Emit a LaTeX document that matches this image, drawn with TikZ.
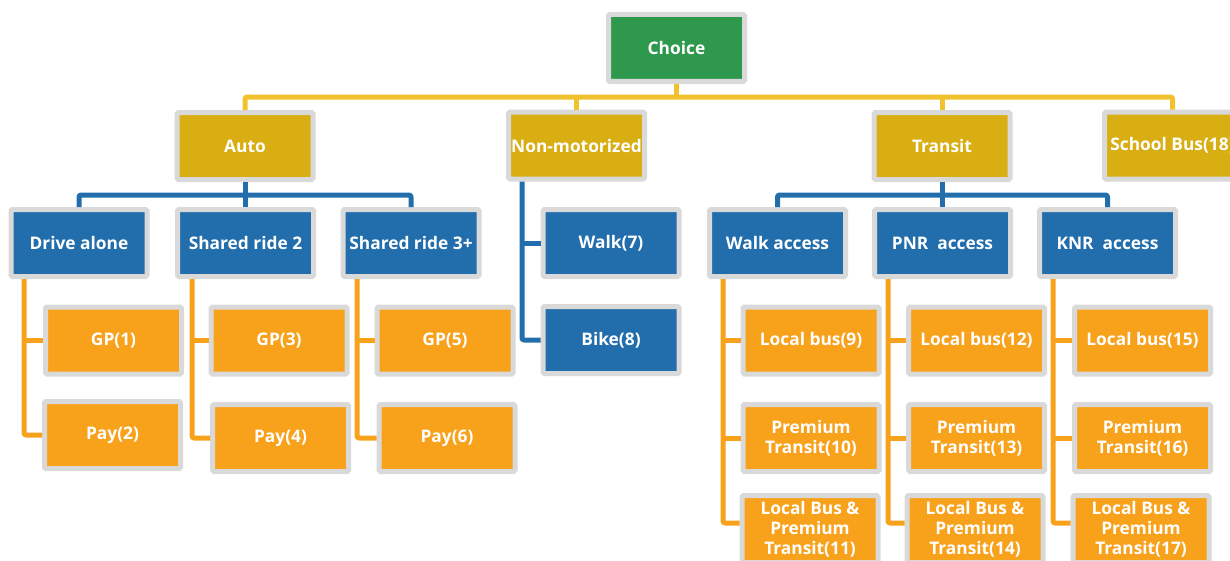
\documentclass[tikz,border=0pt]{standalone}
\usepackage{fontspec}
\setmainfont{Open Sans}
\definecolor{cgreen}{HTML}{2E994C}
\definecolor{cgold}{HTML}{D8AE12}
\definecolor{cyline}{HTML}{F0C22E}
\definecolor{cblue}{HTML}{226EAC}
\definecolor{corange}{HTML}{F8A11B}
\definecolor{cgray}{HTML}{D9D9D9}
\tikzset{
  box/.style={draw=cgray, line width=3.75pt, rounded corners=1pt, minimum width=102pt, minimum height=50.25pt,
    inner sep=0pt, text=white, font=\bfseries\fontsize{13}{15}\selectfont, align=center},
  gbox/.style={box, fill=cgreen},
  ybox/.style={box, fill=cgold},
  bbox/.style={box, fill=cblue},
  obox/.style={box, fill=corange},
  conn/.style={line width=3.75pt, line join=round, rounded corners=1.5pt},
  yl/.style={conn, draw=cyline},
  bl/.style={conn, draw=cblue},
  ol/.style={conn, draw=corange},
}
\begin{document}
\begin{tikzpicture}[x=0.75pt, y=-0.75pt]
\useasboundingbox (0,0) rectangle (1230,560);
\clip (0,0) rectangle (1230,560);
% level 0
\node[gbox] (choice) at (676.5,48) {Choice};
% level 1
\node[ybox] (auto) at (245,146) {Auto};
\node[ybox] (nonmot) at (576.5,145.5) {Non-motorized};
\node[ybox] (transit) at (942,146) {Transit};
\node[ybox] (school) at (1172.5,145.5) {School Bus(18)};
% level 2
\node[bbox] (drive) at (79,243) {Drive alone};
\node[bbox] (sr2) at (245.5,243) {Shared ride 2};
\node[bbox] (sr3) at (411,243) {Shared ride 3+};
\node[bbox] (walk) at (611,243) {Walk(7)};
\node[bbox] (bike) at (611,340) {Bike(8)};
\node[bbox] (wacc) at (777.5,243) {Walk access};
\node[bbox] (pnr) at (942.5,243) {PNR~~access};
\node[bbox] (knr) at (1107.5,243) {KNR~~access};
% level 3 auto
\node[obox] (gp1) at (113.5,340.5) {GP(1)};
\node[obox] (pay2) at (112.5,435) {Pay(2)};
\node[obox] (gp3) at (279,340.5) {GP(3)};
\node[obox] (pay4) at (280.5,438) {Pay(4)};
\node[obox] (gp5) at (445,340.5) {GP(5)};
\node[obox] (pay6) at (447,438) {Pay(6)};
% level 3 transit
\node[obox] (lb9) at (811,340.5) {Local bus(9)};
\node[obox] (pt10) at (811,438) {Premium\\Transit(10)};
\node[obox] (lp11) at (810,529) {Local Bus \&\\Premium\\Transit(11)};
\node[obox] (lb12) at (976.5,340.5) {Local bus(12)};
\node[obox] (pt13) at (976.5,438) {Premium\\Transit(13)};
\node[obox] (lp14) at (975,529) {Local Bus \&\\Premium\\Transit(14)};
\node[obox] (lb15) at (1142.5,340.5) {Local bus(15)};
\node[obox] (pt16) at (1142.5,438) {Premium\\Transit(16)};
\node[obox] (lp17) at (1141,529) {Local Bus \&\\Premium\\Transit(17)};
% bus coordinates
\coordinate (ybus) at (0,97);
\coordinate (bbus) at (0,195);
\coordinate (nmx) at (522,0);
\coordinate (ax1) at (24,0);
\coordinate (ax2) at (192,0);
\coordinate (ax3) at (357,0);
\coordinate (tx1) at (723,0);
\coordinate (tx2) at (888,0);
\coordinate (tx3) at (1053,0);
% yellow connectors
\draw[yl] (choice.south) -- (choice.south |- ybus);
\draw[yl] (auto.north) |- (school.north |- ybus) -- (school.north);
\draw[yl] (nonmot.north) -- (nonmot.north |- ybus);
\draw[yl] (transit.north) -- (transit.north |- ybus);
% blue connectors
\draw[bl] (drive.north) |- (sr3.north |- bbus) -- (sr3.north);
\draw[bl] (auto.south) -- (auto.south |- sr2.north);
\draw[bl] (wacc.north) |- (knr.north |- bbus) -- (knr.north);
\draw[bl] (transit.south) -- (transit.south |- pnr.north);
\draw[bl] (nonmot.south -| nmx) |- (bike.west);
\draw[bl] (nmx |- walk.west) -- (walk.west);
% orange connectors
\draw[ol] (drive.south -| ax1) |- (pay2.west);
\draw[ol] (ax1 |- gp1.west) -- (gp1.west);
\draw[ol] (sr2.south -| ax2) |- (pay4.west);
\draw[ol] (ax2 |- gp3.west) -- (gp3.west);
\draw[ol] (sr3.south -| ax3) |- (pay6.west);
\draw[ol] (ax3 |- gp5.west) -- (gp5.west);
\draw[ol] (wacc.south -| tx1) |- ([yshift=4.5pt]lp11.west);
\draw[ol] (tx1 |- lb9.west) -- (lb9.west);
\draw[ol] (tx1 |- pt10.west) -- (pt10.west);
\draw[ol] (pnr.south -| tx2) |- ([yshift=4.5pt]lp14.west);
\draw[ol] (tx2 |- lb12.west) -- (lb12.west);
\draw[ol] (tx2 |- pt13.west) -- (pt13.west);
\draw[ol] (knr.south -| tx3) |- ([yshift=4.5pt]lp17.west);
\draw[ol] (tx3 |- lb15.west) -- (lb15.west);
\draw[ol] (tx3 |- pt16.west) -- (pt16.west);
\end{tikzpicture}
\end{document}
